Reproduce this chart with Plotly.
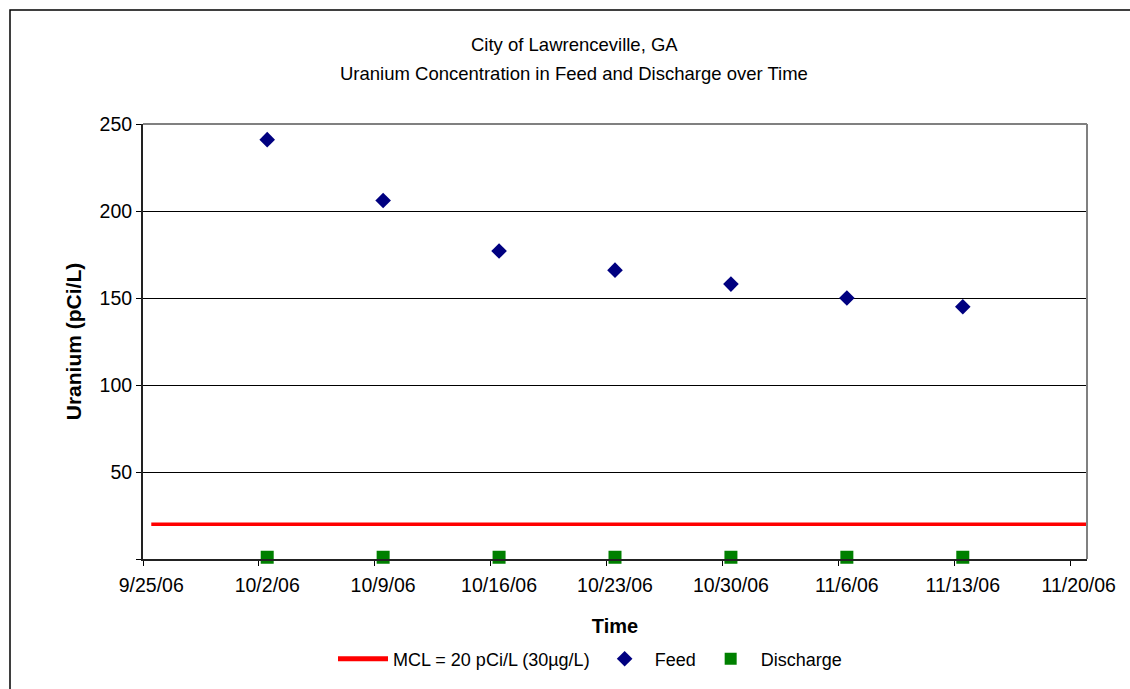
import pandas as pd
import plotly.graph_objects as go

# ---- data ----
sample_dates = ["2006-10-02", "2006-10-09", "2006-10-16", "2006-10-23",
                "2006-10-30", "2006-11-06", "2006-11-13"]
feed_values = [241, 206, 177, 166, 158, 150, 145]
discharge_values = [1, 1, 1, 1, 1, 1, 1]
mcl_dates = ["2006-09-25", "2006-11-21"]
mcl_values = [20, 20]
x_tick_dates = ["2006-09-25", "2006-10-02", "2006-10-09", "2006-10-16",
                "2006-10-23", "2006-10-30", "2006-11-06", "2006-11-13", "2006-11-20"]
x_tick_labels = ["9/25/06", "10/2/06", "10/9/06", "10/16/06", "10/23/06",
                 "10/30/06", "11/6/06", "11/13/06", "11/20/06"]
y_tick_vals = [0, 50, 100, 150, 200, 250]
y_tick_labels = ["", "50", "100", "150", "200", "250"]
title_line1 = "City of Lawrenceville, GA"
title_line2 = "Uranium Concentration in Feed and Discharge over Time"

# Excel date axis centres each point in the middle of its day
half_day = pd.Timedelta(hours=12)
sx = pd.to_datetime(sample_dates) + half_day
mx = pd.to_datetime(mcl_dates) + half_day
tx = pd.to_datetime(x_tick_dates) + half_day

FONT = "Liberation Sans, Arial, sans-serif"

fig = go.Figure()
fig.add_trace(go.Scatter(x=mx, y=mcl_values, mode="lines",
                         name="MCL = 20 pCi/L (30\u00b5g/L)",
                         line=dict(color="#FF0000", width=3.5)))
fig.add_trace(go.Scatter(x=sx, y=feed_values, mode="markers", name="Feed",
                         marker=dict(symbol="diamond", size=12, color="#000080")))
fig.add_trace(go.Scatter(x=sx, y=discharge_values, mode="markers", name="Discharge",
                         cliponaxis=False,
                         marker=dict(symbol="square", size=13, color="#008000")))

W, H = 1130, 689
L, R, T, B = 143, 43, 124, 130
pw, ph = W - L - R, H - T - B

def px(x):
    return (x - L) / pw

def py(y):
    return (H - B - y) / ph

fig.update_layout(
    width=W, height=H,
    margin=dict(l=L, r=R, t=T, b=B),
    paper_bgcolor="white", plot_bgcolor="white",
    font=dict(family=FONT, size=18, color="black"),
    showlegend=True,
    legend=dict(orientation="h", x=px(590), xanchor="center",
                y=py(659), yanchor="middle",
                font=dict(size=18), itemsizing="constant", itemwidth=50,
                bgcolor="rgba(0,0,0,0)", tracegroupgap=0),
    xaxis=dict(
        type="date",
        range=["2006-09-25", "2006-11-21"],
        tickmode="array", tickvals=tx, ticktext=x_tick_labels,
        ticks="", showgrid=False, ticklabelstandoff=8,
        minor=dict(tickmode="array", tickvals=pd.to_datetime(x_tick_dates),
                   ticks="outside", ticklen=5, tickcolor="black", tickwidth=1,
                   showgrid=False),
        showline=True, linecolor="#222222", linewidth=2,
        tickfont=dict(size=19.5),
        title=dict(text="<b>Time</b>", font=dict(size=20), standoff=24),
        zeroline=False, fixedrange=True,
    ),
    yaxis=dict(
        range=[0, 250],
        tickmode="array", tickvals=y_tick_vals, ticktext=y_tick_labels,
        ticks="outside", ticklen=5, tickcolor="black",
        showgrid=True, gridcolor="black", gridwidth=1,
        showline=True, linecolor="#222222", linewidth=2,
        tickfont=dict(size=19.5),
        title=dict(text="<b>Uranium (pCi/L)</b>", font=dict(size=21), standoff=12),
        zeroline=False, fixedrange=True,
    ),
    annotations=[
        dict(text=title_line1, xref="paper", yref="paper", x=px(574), y=py(44),
             xanchor="center", yanchor="middle", showarrow=False,
             font=dict(size=18.5, color="black")),
        dict(text=title_line2, xref="paper", yref="paper", x=px(574), y=py(74),
             xanchor="center", yanchor="middle", showarrow=False,
             font=dict(size=18.5, color="black")),
    ],
    shapes=[
        # plot-area top and right border (grey)
        dict(type="line", xref="paper", yref="paper", x0=0, x1=1, y0=1, y1=1,
             line=dict(color="#808080", width=2)),
        dict(type="line", xref="paper", yref="paper", x0=1, x1=1, y0=0, y1=1,
             line=dict(color="#808080", width=2)),
        # outer chart frame
        dict(type="rect", xref="paper", yref="paper",
             x0=px(10), x1=px(1200), y0=py(760), y1=py(10),
             line=dict(color="black", width=1.5), layer="below"),
    ],
)

fig.write_html("out.html")
